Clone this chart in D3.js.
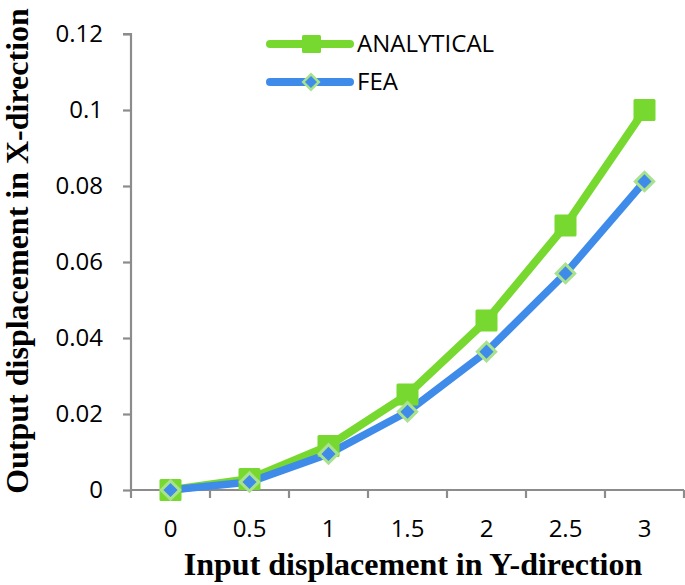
<!DOCTYPE html>
<html><head><meta charset="utf-8">
<script src="https://cdn.jsdelivr.net/npm/d3@7"></script>
<style>body{margin:0;background:#fff}</style>
</head><body>
<svg id="c" width="685" height="585"></svg>
<script>
const categories = ["0","0.5","1","1.5","2","2.5","3"];
const analytical = [0, 0.0029, 0.0116, 0.0251, 0.0446, 0.0696, 0.1];
const fea = [0, 0.0021, 0.0095, 0.0206, 0.0364, 0.057, 0.0812];
const yTicks = [0, 0.02, 0.04, 0.06, 0.08, 0.1, 0.12];
const seriesNames = ["ANALYTICAL", "FEA"];

(function(){
const svg = d3.select("#c");
const mLeft = 131, mRight = 684, mTop = 34, mBottom = 490;
const x = d3.scaleBand().domain(categories).range([mLeft, mRight]);
const y = d3.scaleLinear().domain([0, 0.12]).range([mBottom, mTop]);
const axisColor = "#8c8c8c";
const green = "#77D92F", blue = "#3F8BEA", lightGreen = "#A9E28C";
const tickFont = "'Open Sans', 'Liberation Sans', sans-serif";
const fs = 24;

// Y axis
const ya = svg.append("g").attr("transform", `translate(${mLeft},0)`)
  .call(d3.axisLeft(y).tickValues(yTicks).tickSize(8).tickPadding(20)
    .tickFormat(d => d === 0 ? "0" : String(+d.toFixed(2))));
ya.select(".domain").attr("stroke", axisColor).attr("stroke-width", 2.2).attr("d", `M-8,${mTop}H0V${mBottom}`);
ya.selectAll(".tick line").attr("stroke", axisColor).attr("stroke-width", 2.2);
ya.selectAll(".tick text").attr("font-family", tickFont).attr("font-size", fs).attr("fill", "#000");

// X axis
const xa = svg.append("g").attr("transform", `translate(0,${mBottom})`)
  .call(d3.axisBottom(x).tickSize(0).tickPadding(30));
xa.select(".domain").attr("stroke", axisColor).attr("stroke-width", 2.2).attr("d", `M${mLeft},0H${mRight}`);
xa.selectAll(".tick text").attr("font-family", tickFont).attr("font-size", fs).attr("fill", "#000");
const bounds = categories.map(c => x(c)).concat([mRight]);
xa.selectAll(".bt").data(bounds).enter().append("line")
  .attr("x1", d => d).attr("x2", d => d).attr("y1", 0).attr("y2", 8)
  .attr("stroke", axisColor).attr("stroke-width", 2.2);

const cx = c => x(c) + x.bandwidth() / 2;
const line = d3.line().x((d, i) => cx(categories[i])).y(d => y(d));

// Lines
svg.append("path").datum(analytical).attr("d", line).attr("fill", "none")
  .attr("stroke", green).attr("stroke-width", 8).attr("stroke-linejoin", "round");
svg.append("path").datum(fea).attr("d", line).attr("fill", "none")
  .attr("stroke", blue).attr("stroke-width", 7.5).attr("stroke-linejoin", "round");

// Markers
svg.selectAll(".sq").data(analytical).enter().append("rect")
  .attr("x", (d, i) => cx(categories[i]) - 11).attr("y", d => y(d) - 11)
  .attr("width", 22).attr("height", 22).attr("rx", 1.5).attr("fill", green);
svg.selectAll(".dm").data(fea).enter().append("rect")
  .attr("x", -6.5).attr("y", -6.5).attr("width", 13).attr("height", 13)
  .attr("transform", (d, i) => `translate(${cx(categories[i])},${y(d)}) rotate(45)`)
  .attr("fill", blue).attr("stroke", lightGreen).attr("stroke-width", 3);

// Legend
const lg = svg.append("g");
lg.append("line").attr("x1", 270).attr("x2", 350).attr("y1", 44).attr("y2", 44)
  .attr("stroke", green).attr("stroke-width", 8).attr("stroke-linecap", "round");
lg.append("rect").attr("x", 302).attr("y", 35).attr("width", 19).attr("height", 18).attr("rx", 1.5).attr("fill", green);
lg.append("text").attr("x", 357).attr("y", 52).text(seriesNames[0])
  .attr("font-family", tickFont).attr("font-size", fs);
lg.append("line").attr("x1", 270).attr("x2", 350).attr("y1", 82).attr("y2", 82)
  .attr("stroke", blue).attr("stroke-width", 8).attr("stroke-linecap", "round");
lg.append("rect").attr("x", -5.5).attr("y", -5.5).attr("width", 11).attr("height", 11)
  .attr("transform", "translate(311,82) rotate(45)")
  .attr("fill", blue).attr("stroke", lightGreen).attr("stroke-width", 2.5);
lg.append("text").attr("x", 357).attr("y", 90).text(seriesNames[1])
  .attr("font-family", tickFont).attr("font-size", fs);

// Axis titles
const titleFont = "'Liberation Serif', 'Times New Roman', serif";
svg.append("text").attr("x", 413).attr("y", 575).attr("text-anchor", "middle")
  .attr("font-family", titleFont).attr("font-weight", "bold").attr("font-size", 32)
  .text("Input displacement in Y-direction");
svg.append("text").attr("transform", "translate(28,251) rotate(-90)").attr("text-anchor", "middle")
  .attr("font-family", titleFont).attr("font-weight", "bold").attr("font-size", 32)
  .text("Output displacement in X-direction");
})();
</script>
</body></html>
